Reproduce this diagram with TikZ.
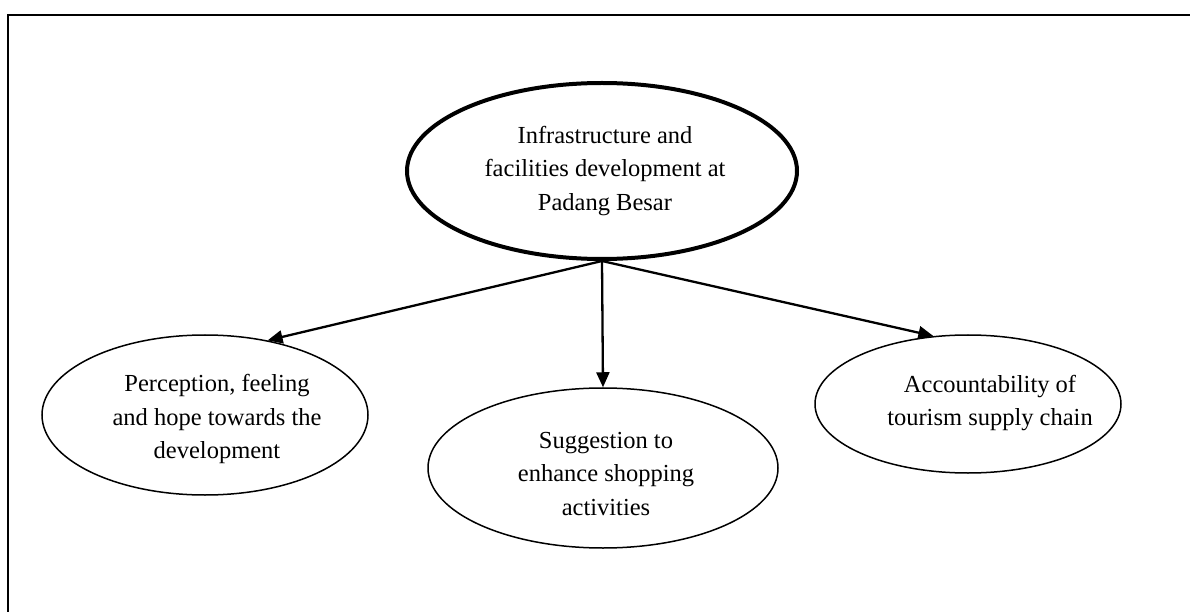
\documentclass[tikz,border=0pt]{standalone}
\usepackage{fontspec}
\setmainfont{Liberation Serif}
\usetikzlibrary{shapes.geometric,arrows.meta}
\begin{document}
\begin{tikzpicture}[x=1bp,y=-1bp,
  bubble/.style={draw=black,ellipse,inner sep=0pt,line width=1.5bp},
  mainbubble/.style={bubble,line width=4bp},
  caption/.style={align=center,inner sep=0pt,font=\fontsize{24.5bp}{33.5bp}\selectfont},
  link/.style={line width=2.3bp,-{Triangle[length=15bp,width=13bp]}}]
  \useasboundingbox (0,0) rectangle (1190,612);
  % open frame: top and left edges only
  \draw[line width=2bp] (1190,15) -- (8,15) -- (8,612);

  % ellipses
  \node[mainbubble,minimum width=390bp,minimum height=176bp] (top) at (602,171) {};
  \node[bubble,minimum width=326bp,minimum height=160bp] (left) at (205,415) {};
  \node[bubble,minimum width=350bp,minimum height=160bp] (mid) at (603,468) {};
  \node[bubble,minimum width=306bp,minimum height=138bp] (right) at (968,404) {};

  % texts
  \node[caption] (ttop) at (605,171) {Infrastructure and\\facilities development at\\Padang Besar};
  \node[caption] (tleft) at (217,419) {Perception, feeling\\and hope towards the\\development};
  \node[caption] (tmid) at (606,474) {Suggestion to\\enhance shopping\\activities};
  \node[caption] (tright) at (990,403) {Accountability of\\tourism supply chain};

  % arrows
  \draw[link] (top.south) -- (left.50);
  \draw[link] (top.south) -- (mid.north);
  \draw[link] (top.south) -- (right.117);
\end{tikzpicture}
\end{document}
